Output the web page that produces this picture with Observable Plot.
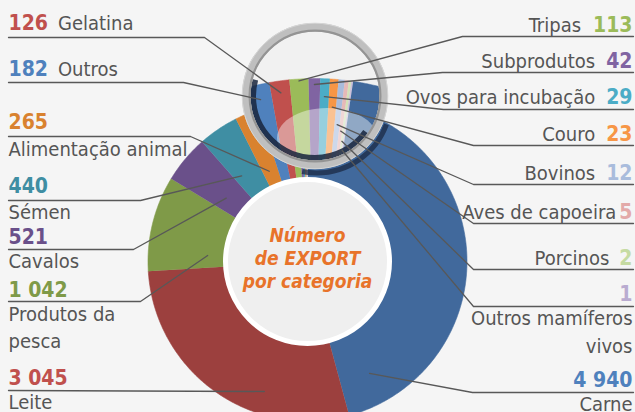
<!DOCTYPE html>
<html><head><meta charset="utf-8">
<script src="https://cdn.jsdelivr.net/npm/d3@7"></script>
<script src="https://cdn.jsdelivr.net/npm/@observablehq/plot@0.6"></script>
<style>html,body{margin:0;padding:0;background:#f5f5f5;} #chart{width:635px;height:412px;overflow:hidden}</style>
</head><body><div id="chart"></div>
<script>
// ---------- DATA ----------
const categories = ["Carne","Leite","Produtos da pesca","Cavalos","Sémen","Alimentação animal","Outros","Gelatina","Tripas","Subprodutos","Ovos para incubação","Couro","Bovinos","Aves de capoeira","Porcinos","Outros mamíferos vivos"];
const values = [4940,3045,1042,521,440,265,182,126,113,42,29,23,12,5,2,1];
const valueLabels = ["4 940","3 045","1 042","521","440","265","182","126","113","42","29","23","12","5","2","1"];
const nameLines = [["Carne"],["Leite"],["Produtos da","pesca"],["Cavalos"],["Sémen"],["Alimentação animal"],["Outros"],["Gelatina"],["Tripas"],["Subprodutos"],["Ovos para incubação"],["Couro"],["Bovinos"],["Aves de capoeira"],["Porcinos"],["Outros mamíferos","vivos"]];
const centerTitle = ["Número","de EXPORT","por categoria"];

// ---------- STYLES ----------
const sliceColors = ["#41699c","#9c403e","#7f9a48","#6a508a","#3f8ea3","#d9822f","#4f81bd","#c0504d","#9bbb59","#8064a2","#4bacc6","#f79646","#a9bcdc","#e6b9b8","#d3e2b8","#ccc1da"];
const numberColors = ["#4f81bd","#c0504d","#7f9a48","#6a508a","#3f8ea3","#d9822f","#4f81bd","#c0504d","#9bbb59","#8064a2","#4bacc6","#f79646","#a9bcdc","#e3aaa9","#c6dba2","#b9abd0"];
const textColor = "#555555";
const lineColor = "#585858";
const FONT = "'DejaVu Sans Condensed', 'DejaVu Sans', sans-serif";
const nameSize = 20, numSize = 21;

// ---------- LAYOUT ----------
const geom = {cx: 307, cy: 261, r1: 159.5, r0: 80};
const lens = {cx: 314.5, cy: 95.5, rIn: 64.5, rOut: 73};
const mag = {cx: 314.5, cy: 338, R: 260, r0: 140, k: 1.6, refR: 230, boundaryX: 274};
const labelLayout = {
  "Carne": {side:"R", lineY:392, bendX:472, numY:386, nameY:410, lh:24, ring:"main", f:0.916, r:128},
  "Leite": {side:"L", lineY:390, bendX:null, numY:384, nameY:408, lh:24, ring:"main", f:0.33, r:137},
  "Produtos da pesca": {side:"L", lineY:301, bendX:140, numY:296, nameY:320, lh:27, ring:"main", f:0.2, r:100},
  "Cavalos": {side:"L", lineY:249, bendX:133, numY:243, nameY:267, lh:24, ring:"main", f:0.385, r:103},
  "Sémen": {side:"L", lineY:200, bendX:140, numY:192, nameY:218, lh:24, ring:"main", f:0.26, r:108},
  "Alimentação animal": {side:"L", lineY:136, bendX:190, numY:128, nameY:155, lh:24, ring:"main", f:0.42, r:98},
  "Outros": {side:"L", lineY:82, bendX:183, numY:75, inline:true, gap:10, ring:"lens", depth:15},
  "Gelatina": {side:"L", lineY:37, bendX:204, numY:29, inline:true, gap:10, ring:"lens", depth:12},
  "Tripas": {side:"R", lineY:36, bendX:462, numY:31, inline:true, gap:12, ring:"lens", depth:2},
  "Subprodutos": {side:"R", lineY:72, bendX:442, numY:67, inline:true, gap:11, ring:"lens", depth:6},
  "Ovos para incubação": {side:"R", lineY:109, bendX:443, numY:103, inline:true, gap:11, ring:"lens", depth:18},
  "Couro": {side:"R", lineY:145, bendX:473, numY:140, inline:true, gap:11, ring:"lens", depth:28},
  "Bovinos": {side:"R", lineY:184, bendX:473, numY:179, inline:true, gap:11, ring:"lens", depth:45},
  "Aves de capoeira": {side:"R", lineY:223, bendX:473, numY:218, inline:true, gap:3, ring:"lens", depth:51},
  "Porcinos": {side:"R", lineY:269, bendX:473, numY:264, inline:true, gap:10, ring:"lens", depth:61},
  "Outros mamíferos vivos": {side:"R", lineY:306, bendX:473, numY:300, nameY:324, lh:28, ring:"lens", depth:70}
};

// ---------- GEOMETRY FROM DATA ----------
const pie = d3.pie().sort(null).value(d => d)(values);
function slicePoly(cat, color, a0, a1, cx, cy, r0, r1) {
  const n = Math.max(2, Math.ceil(Math.abs(a1 - a0) / 0.008));
  const pts = [];
  for (let k = 0; k <= n; k++) { const a = a0 + (a1 - a0) * k / n; pts.push({cat, color, x: cx + r1 * Math.sin(a), y: cy - r1 * Math.cos(a)}); }
  for (let k = n; k >= 0; k--) { const a = a0 + (a1 - a0) * k / n; pts.push({cat, color, x: cx + r0 * Math.sin(a), y: cy - r0 * Math.cos(a)}); }
  return pts;
}
const mainRows = pie.flatMap((p, i) => slicePoly(categories[i], sliceColors[i], p.startAngle, p.endAngle, geom.cx, geom.cy, geom.r0, geom.r1));

// magnified view inside the lens (small slices widened)
const magOrder = [2,3,4,5,6,7,8,9,10,11,12,13,14,15,0];
const magAng = {};
{
  let acc = 0; const tmp = {};
  for (const i of magOrder) { const w = mag.k * Math.sqrt(values[i]) / mag.refR; tmp[i] = [acc, acc + w]; acc += w; }
  const aB = Math.asin((mag.boundaryX - mag.cx) / mag.refR);
  const shift = aB - tmp[7][0];
  for (const i of magOrder) magAng[i] = [tmp[i][0] + shift, tmp[i][1] + shift];
}
const magRows = magOrder.flatMap(i => slicePoly(categories[i] + "_m", sliceColors[i], magAng[i][0], magAng[i][1], mag.cx, mag.cy, mag.r0, mag.R));

// glossy highlight (ellipse) inside the lens
const glossRows = d3.range(0, 361, 6).map(t => ({x: lens.cx + 12 + 50 * Math.cos(t * Math.PI / 180), y: lens.cy + 42 + 30 * Math.sin(t * Math.PI / 180)}));

// ---------- LABELS ----------
const ctx = document.createElement("canvas").getContext("2d");
function tw(t, font) { ctx.font = font; return ctx.measureText(t).width; }
const numFont = `bold ${numSize}px ${FONT}`;

const numRows = [], nameRows = [], leaderRows = [];
categories.forEach((cat, i) => {
  const L = labelLayout[cat];
  const left = L.side === "L";
  const xEdge = left ? 8 : 632;
  numRows.push({side: L.side, x: xEdge, y: L.numY, text: valueLabels[i], color: numberColors[i]});
  if (L.inline) {
    const w = tw(valueLabels[i], numFont);
    nameRows.push({side: L.side, x: left ? xEdge + w + L.gap : xEdge - w - L.gap, y: L.numY, text: nameLines[i].join(" ")});
  } else {
    nameLines[i].forEach((t, k) => nameRows.push({side: L.side, x: xEdge, y: L.nameY + k * L.lh, text: t}));
  }
  let ax, ay;
  if (L.ring === "main") {
    const p = pie[i];
    const a = p.startAngle + L.f * (p.endAngle - p.startAngle);
    ax = geom.cx + L.r * Math.sin(a); ay = geom.cy - L.r * Math.cos(a);
  } else {
    const a = (magAng[i][0] + magAng[i][1]) / 2;
    const r = mag.R - L.depth;
    ax = mag.cx + r * Math.sin(a); ay = mag.cy - r * Math.cos(a);
  }
  const startX = left ? 8 : 633;
  leaderRows.push({cat, x: startX, y: L.lineY});
  if (L.bendX != null) leaderRows.push({cat, x: L.bendX, y: L.lineY});
  leaderRows.push({cat, x: ax, y: ay});
});
const titleRows = centerTitle.map((t, k) => ({x: geom.cx, y: 241 + k * 23, text: t}));
const sideL = d => d.side === "L", sideR = d => d.side === "R";

// ---------- PLOT ----------
const C = [{x: geom.cx, y: geom.cy}];
const Ls = [{x: lens.cx, y: lens.cy}];
const numOpts = {x: "x", y: "y", text: "text", fill: "color", lineAnchor: "bottom", fontFamily: FONT, fontSize: numSize, fontWeight: "bold"};
const nameOpts = {x: "x", y: "y", text: "text", fill: textColor, lineAnchor: "bottom", fontFamily: FONT, fontSize: nameSize};
const plot = Plot.plot({
  width: 635, height: 412, margin: 0,
  x: {domain: [0, 635], range: [0, 635], axis: null},
  y: {domain: [0, 412], range: [0, 412], axis: null},
  color: {type: "identity"},
  style: {background: "#f5f5f5"},
  marks: [
    Plot.line(mainRows, {x: "x", y: "y", z: "cat", fill: "color", stroke: "color", strokeWidth: 0.6}),
    Plot.dot(C, {x: "x", y: "y", r: geom.r0 + 2, fill: "#efefef", stroke: "white", strokeWidth: 5}),
    Plot.dot([{x: lens.cx + 2, y: lens.cy + 3}], {x: "x", y: "y", r: 74, fill: "none", stroke: "#1b2a44", strokeWidth: 5, strokeOpacity: 0.75, strokeDasharray: "0 26 105 500"}),
    Plot.dot(Ls, {x: "x", y: "y", r: lens.rIn + 1, fill: "#f1f1f1", ariaDescription: "lens"}),
    Plot.line(magRows, {x: "x", y: "y", z: "cat", fill: "color", stroke: "color", strokeWidth: 0.5, ariaDescription: "lens"}),
    Plot.line(glossRows, {x: "x", y: "y", fill: "white", fillOpacity: 0.42, stroke: "none", ariaDescription: "lens"}),
    Plot.dot(Ls, {x: "x", y: "y", r: 62, fill: "none", stroke: "#18243c", strokeWidth: 6, strokeOpacity: 0.85, strokeDasharray: "0 38 173 500", ariaDescription: "lens"}),
    Plot.dot(Ls, {x: "x", y: "y", r: 68.7, fill: "none", stroke: "#bfbfbf", strokeWidth: 8.6}),
    Plot.dot(Ls, {x: "x", y: "y", r: 65.4, fill: "none", stroke: "#949494", strokeWidth: 2.2}),
    Plot.dot(Ls, {x: "x", y: "y", r: 72.8, fill: "none", stroke: "#d6d6d6", strokeWidth: 1}),
    Plot.line(leaderRows, {x: "x", y: "y", z: "cat", stroke: lineColor, strokeWidth: 1.3}),
    Plot.text(numRows, {...numOpts, filter: sideL, textAnchor: "start"}),
    Plot.text(numRows, {...numOpts, filter: sideR, textAnchor: "end"}),
    Plot.text(nameRows, {...nameOpts, filter: sideL, textAnchor: "start"}),
    Plot.text(nameRows, {...nameOpts, filter: sideR, textAnchor: "end"}),
    Plot.text(titleRows, {x: "x", y: "y", text: "text", fill: "#e8732a", textAnchor: "middle", lineAnchor: "bottom", fontFamily: FONT, fontSize: 19, fontWeight: "bold", fontStyle: "italic"})
  ]
});

const ns = "http://www.w3.org/2000/svg";
const defs = document.createElementNS(ns, "defs");
const cp = document.createElementNS(ns, "clipPath"); cp.setAttribute("id", "lensClip");
const cc = document.createElementNS(ns, "circle");
const xs = plot.scale("x"), ys = plot.scale("y");
cc.setAttribute("cx", xs.apply(lens.cx)); cc.setAttribute("cy", ys.apply(lens.cy)); cc.setAttribute("r", lens.rIn);
cp.appendChild(cc); defs.appendChild(cp); plot.insertBefore(defs, plot.firstChild);
plot.querySelectorAll('[aria-description="lens"]').forEach(g => g.setAttribute("clip-path", "url(#lensClip)"));
document.getElementById("chart").appendChild(plot);
</script>
</body></html>
